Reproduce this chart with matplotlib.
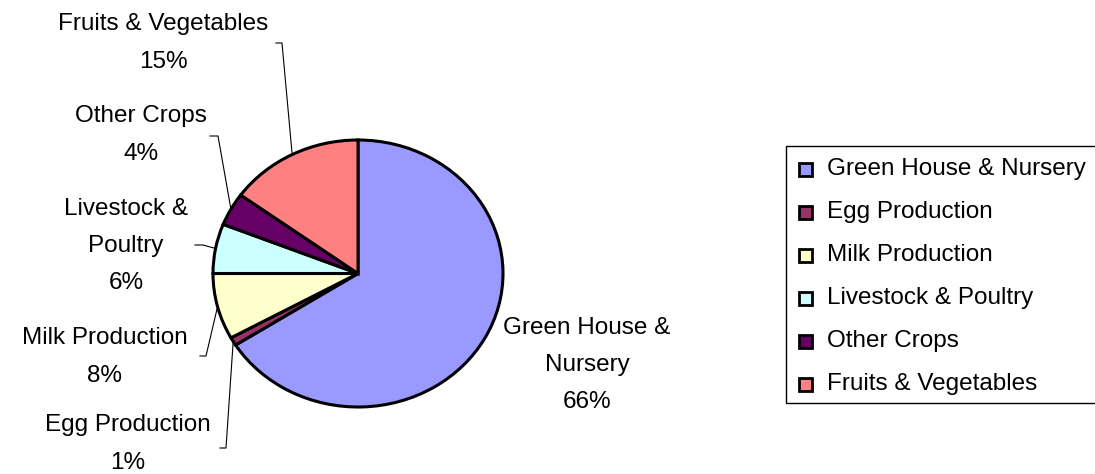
import matplotlib
matplotlib.use('Agg')
import matplotlib.pyplot as plt
from matplotlib.patches import Rectangle
import numpy as np

# data
categories = ['Green House & Nursery', 'Egg Production', 'Milk Production',
              'Livestock & Poultry', 'Other Crops', 'Fruits & Vegetables']
shares = [66, 1, 8, 6, 4, 15]
colors = ['#9999FF', '#993366', '#FFFFCC', '#CCFFFF', '#660066', '#FF8080']
# names as wrapped beside the pie
pie_names = ['Green House &\nNursery', 'Egg Production', 'Milk Production',
             'Livestock &\nPoultry', 'Other Crops', 'Fruits & Vegetables']

W, H = 1095, 474
plt.rcParams['font.family'] = ['Liberation Sans', 'DejaVu Sans']
FS = 17.5

fig = plt.figure(figsize=(W / 100, H / 100), dpi=100)
fig.patch.set_facecolor('white')

# overlay axes in pixel coordinates (labels, leaders, legend)
ov = fig.add_axes([0, 0, 1, 1])
ov.set_xlim(0, W)
ov.set_ylim(H, 0)
ov.axis('off')

# pie, slightly wider than tall like the excel original
cx, cy, rx, ry = 358, 273.5, 145, 133.5
pa = fig.add_axes([(cx - rx) / W, (H - cy - ry) / H, 2 * rx / W, 2 * ry / H])
wedges, _ = pa.pie(shares, colors=colors, startangle=90, counterclock=False,
                   wedgeprops=dict(edgecolor='black', linewidth=2.2))
pa.set_aspect('auto')
pa.set_xlim(-1, 1)
pa.set_ylim(-1, 1)

# label centres and leader elbows (x start, x end, y) in pixels
label_xy = [(587, 365), (128, 444), (105, 357), (126, 246), (141, 135), (163, 43)]
elbows = [None, (220, 226, 448), (200, 206, 356), (195, 203, 245),
          (210, 218, 136), (276, 282, 43)]

for w, name, v, (lx, ly), el in zip(wedges, pie_names, shares, label_xy, elbows):
    ov.text(lx, ly, f'{name}\n{v}%', ha='center', va='center',
            fontsize=FS, linespacing=1.9, color='black')
    if el is not None:
        mid = np.deg2rad((w.theta1 + w.theta2) / 2)
        px = cx + rx * np.cos(mid)
        py = cy - ry * np.sin(mid)
        ov.plot([el[0], el[1], px], [el[2], el[2], py], color='black', lw=0.8)

# legend box, runs off the right edge
ov.add_patch(Rectangle((786, 146), 400, 257, facecolor='white',
                       edgecolor='black', lw=1, clip_on=False))
for i, (c, name) in enumerate(zip(colors, categories)):
    yc = 169 + i * 43
    ov.add_patch(Rectangle((799, yc - 6.5), 13, 13, facecolor=c,
                           edgecolor='black', lw=2))
    ov.text(827, yc, name, ha='left', va='center', fontsize=FS, color='black')

fig.savefig('out.png', dpi=100, facecolor='white')
